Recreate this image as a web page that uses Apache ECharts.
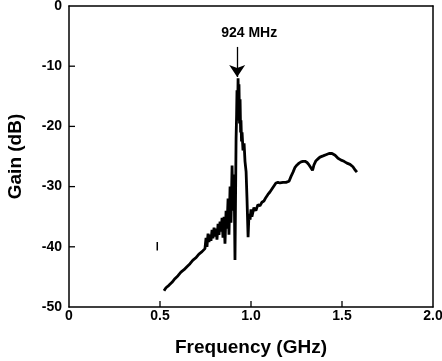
<!DOCTYPE html>
<html>
<head>
<meta charset="utf-8">
<script src="https://cdn.jsdelivr.net/npm/echarts@6/dist/echarts.min.js"></script>
<style>
  html, body { margin: 0; padding: 0; background: #fff; }
  #main { width: 442px; height: 361px; }
</style>
</head>
<body>
<div id="main"></div>
<script>
// 频率 (GHz)
const freq = [
  0.522, 0.533, 0.549, 0.566, 0.582, 0.599, 0.615, 0.632, 0.648, 0.665,
  0.681, 0.698, 0.714, 0.731, 0.747, 0.753, 0.758, 0.764, 0.769, 0.775,
  0.780, 0.786, 0.791, 0.797, 0.802, 0.808, 0.813, 0.819, 0.824, 0.830,
  0.835, 0.841, 0.846, 0.852, 0.857, 0.863, 0.868, 0.874, 0.879, 0.885,
  0.890, 0.896, 0.901, 0.907, 0.912, 0.918, 0.921, 0.923, 0.926, 0.929,
  0.931, 0.934, 0.937, 0.940, 0.943, 0.945, 0.948, 0.951, 0.956, 0.962,
  0.967, 0.973, 0.978, 0.984, 0.989, 0.995, 1.000, 1.005, 1.016, 1.027,
  1.038, 1.049, 1.060, 1.071, 1.082, 1.093, 1.104, 1.115, 1.126, 1.137,
  1.148, 1.159, 1.176, 1.192, 1.209, 1.220, 1.231, 1.242, 1.253, 1.264,
  1.275, 1.286, 1.297, 1.308, 1.319, 1.330, 1.338, 1.346, 1.357, 1.368,
  1.379, 1.396, 1.412, 1.429, 1.445, 1.462, 1.478, 1.495, 1.511, 1.527,
  1.544, 1.560, 1.571, 1.582
];
// 增益 (dB)
const gain = [
  -47.3, -46.8, -46.4, -45.9, -45.3, -44.8, -44.2, -43.8, -43.3, -42.8,
  -42.2, -41.8, -41.2, -40.8, -40.3, -38.5, -40.0, -37.8, -39.2, -38.0,
  -39.0, -37.2, -38.6, -36.8, -38.3, -37.0, -38.8, -36.2, -38.0, -35.8,
  -37.5, -35.2, -38.5, -35.0, -39.5, -34.0, -37.0, -32.0, -38.0, -30.0,
  -36.0, -26.5, -34.0, -28.0, -42.2, -22.0, -18.0, -14.0, -19.0, -12.0,
  -16.0, -13.0, -19.5, -15.5, -21.0, -19.0, -22.5, -21.0, -24.0, -22.8,
  -25.8, -27.5, -32.0, -38.4, -34.5, -35.5, -33.8, -35.0, -33.5, -34.0,
  -33.0, -33.2, -32.6, -32.4, -31.8, -31.3, -30.9, -30.4, -29.9, -29.4,
  -29.3, -29.4, -29.3, -29.3, -29.1, -28.3, -27.6, -26.8, -26.4, -26.1,
  -25.9, -25.8, -25.8, -26.0, -26.4, -26.9, -27.3, -26.4, -25.7, -25.4,
  -25.1, -24.9, -24.7, -24.5, -24.5, -24.8, -25.3, -25.6, -25.8, -26.1,
  -26.3, -26.7, -27.2, -27.6
];
// 左侧孤立小竖线
const strayFreq = [0.485, 0.485];
const strayGain = [-39.2, -40.6];
// 刻度
const xTicks = [0.5, 1.0, 1.5];
const yTicks = [-40, -30, -20, -10];
// 标注
const peakFreq = 0.924;
const arrowGain = [-6.8, -11.8];
const peakLabel = '924 MHz';

const chartDom = document.getElementById('main');
const myChart = echarts.init(chartDom);

const axisFont = {
  color: '#000',
  fontFamily: 'Liberation Sans, Arial, sans-serif',
  fontWeight: 'bold',
  fontSize: 14
};
const nameFont = {
  color: '#000',
  fontFamily: 'Liberation Sans, Arial, sans-serif',
  fontWeight: 'bold',
  fontSize: 19
};
const blackLine = { color: '#000', width: 1.5 };

// 上/右边框用的空轴
const frameAxis = (pos, min, max) => ({
  type: 'value',
  position: pos,
  min: min,
  max: max,
  axisLine: { show: true, onZero: false, lineStyle: blackLine },
  axisTick: { show: false },
  axisLabel: { show: false },
  splitLine: { show: false }
});

const option = {
  animation: false,
  backgroundColor: '#fff',
  grid: {
    left: 69,
    right: 9,
    top: 6,
    bottom: 54,
    containLabel: false,
    outerBoundsMode: 'none'
  },
  xAxis: [
    {
      type: 'value',
      position: 'bottom',
      min: 0,
      max: 2,
      interval: 0.5,
      name: 'Frequency (GHz)',
      nameLocation: 'middle',
      nameGap: 31,
      nameTextStyle: nameFont,
      axisLine: { show: true, onZero: false, lineStyle: blackLine },
      axisTick: { show: false },
      axisLabel: Object.assign({
        margin: 2,
        formatter: (v) => v === 0 ? '0' : v.toFixed(1)
      }, axisFont),
      splitLine: { show: false }
    },
    frameAxis('top', 0, 2)
  ],
  yAxis: [
    {
      type: 'value',
      position: 'left',
      min: -50,
      max: 0,
      interval: 10,
      name: 'Gain (dB)',
      nameLocation: 'middle',
      nameGap: 44,
      nameTextStyle: nameFont,
      axisLine: { show: true, onZero: false, lineStyle: blackLine },
      axisTick: { show: false },
      axisLabel: Object.assign({ margin: 7 }, axisFont),
      splitLine: { show: false }
    },
    frameAxis('right', -50, 0)
  ],
  series: [
    {
      type: 'line',
      data: freq.map((f, i) => [f, gain[i]]),
      symbol: 'none',
      lineStyle: { color: '#000', width: 2.8 },
      markLine: {
        silent: true,
        symbol: ['none', 'arrow'],
        symbolSize: 12,
        label: { show: false },
        lineStyle: { color: '#000', width: 1.3, type: 'solid' },
        data: [[
          { coord: [peakFreq, arrowGain[0]] },
          { coord: [peakFreq, arrowGain[1]] }
        ]]
      },
      markPoint: {
        silent: true,
        symbol: 'circle',
        symbolSize: 0,
        itemStyle: { color: 'transparent' },
        label: Object.assign({
          show: true,
          position: 'inside',
          formatter: peakLabel
        }, axisFont),
        data: [{ coord: [0.99, -4.5] }]
      }
    },
    {
      type: 'line',
      data: strayFreq.map((f, i) => [f, strayGain[i]]),
      symbol: 'none',
      lineStyle: { color: '#000', width: 1.5 }
    }
  ]
};

option && myChart.setOption(option);

// 内向刻度线：按坐标轴换算位置后画
const toPx = (pt) => myChart.convertToPixel({ gridIndex: 0 }, pt);
const tickStyle = { stroke: '#000', lineWidth: 1.3 };
const ticks = [];
xTicks.forEach((v) => {
  const p = toPx([v, -50]);
  ticks.push({ type: 'line', z: 100, silent: true,
    shape: { x1: p[0], y1: p[1], x2: p[0], y2: p[1] - 6 }, style: tickStyle });
});
yTicks.forEach((v) => {
  const p = toPx([0, v]);
  ticks.push({ type: 'line', z: 100, silent: true,
    shape: { x1: p[0], y1: p[1], x2: p[0] + 6, y2: p[1] }, style: tickStyle });
});
myChart.setOption({ graphic: ticks });
</script>
</body>
</html>
